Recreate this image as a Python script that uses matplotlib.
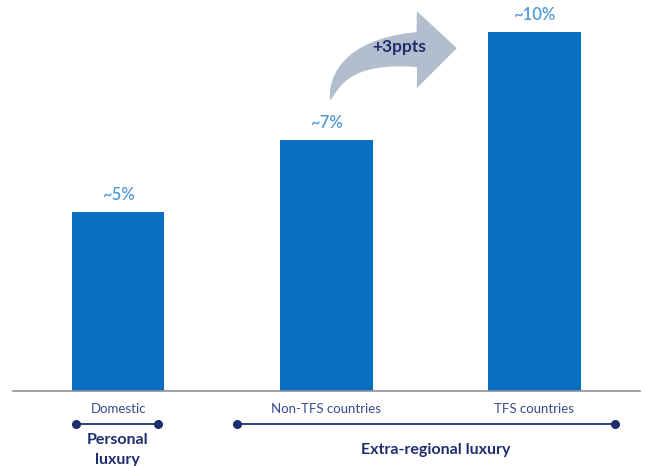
import numpy as np
import matplotlib
matplotlib.use("Agg")
import matplotlib.pyplot as plt
from matplotlib.patches import Polygon
from matplotlib.transforms import blended_transform_factory, IdentityTransform

plt.rcParams['font.family'] = ['Lato', 'DejaVu Sans']

categories = ["Domestic", "Non-TFS countries", "TFS countries"]
values = [5, 7, 10]
value_labels = ["~5%", "~7%", "~10%"]
uplift_label = "+3ppts"
groups = [("Personal\nluxury", 0, 0), ("Extra-regional luxury", 1, 2)]

BAR = "#0a6fc2"
LABEL = "#4f9ad8"
NAVY = "#1f2d6e"
ARROW = "#b2bdcd"

W, H = 647, 466
fig = plt.figure(figsize=(W / 100, H / 100), dpi=100)
ax = fig.add_axes([13 / W, (H - 391) / H, (640 - 13) / W, 391 / H])

x = np.arange(len(categories))
ax.bar(x, values, width=0.445, color=BAR, zorder=2)
ax.set_xlim(-0.505, 2.507)
ax.set_ylim(0, 391 / 35.9)

for xi, v, lab in zip(x, values, value_labels):
    ax.text(xi, v + 0.47, lab, ha="center", va="center", fontsize=12,
            color=LABEL, fontweight="semibold")

for side in ["top", "right", "left"]:
    ax.spines[side].set_visible(False)
ax.spines["bottom"].set_color("#8f939b")
ax.spines["bottom"].set_linewidth(1.2)
ax.set_xticks([])
ax.set_yticks([])

# category names and group brackets under the axis
bt = blended_transform_factory(ax.transData, fig.transFigure)
def fy(py):
    return 1 - py / H

for xi, cat in zip(x, categories):
    ax.text(xi, fy(409), cat, transform=bt, ha="center", va="center",
            fontsize=9.5, color="#3a4a8c", clip_on=False)

for name, i0, i1 in groups:
    if i0 == i1:
        x0, x1 = x[i0] - 0.2, x[i1] + 0.19
    else:
        x0, x1 = x[i0] - 0.43, x[i1] + 0.385
    ax.plot([x0, x1], [fy(424), fy(424)], transform=bt, color=NAVY,
            lw=1.3, marker="o", markersize=5.5, clip_on=False)
    cx = (x0 + x1) / 2
    if "\n" in name:
        ax.text(cx, fy(440), name.split("\n")[0], transform=bt, ha="center",
                va="center", fontsize=11.5, fontweight="bold", color=NAVY)
        ax.text(cx, fy(460), name.split("\n")[1], transform=bt, ha="center",
                va="center", fontsize=11.5, fontweight="bold", color=NAVY)
    else:
        ax.text(cx + 0.05, fy(450), name, transform=bt, ha="center",
                va="center", fontsize=11.5, fontweight="bold", color=NAVY)

# curved "uplift" arrow from the second bar towards the third
tail = ax.transData.transform((1.02, 8.1))
tip = ax.transData.transform((1.627, 9.55))
p0 = tail
p2 = np.array([tip[0] - 40, tip[1] - 1.5])
p1 = np.array([tail[0] + 10, p2[1] - 1])
t = np.linspace(0, 1, 60)[:, None]
centre = (1 - t) ** 2 * p0 + 2 * (1 - t) * t * p1 + t ** 2 * p2
deriv = 2 * (1 - t) * (p1 - p0) + 2 * t * (p2 - p1)
norm = np.column_stack([-deriv[:, 1], deriv[:, 0]])
norm /= np.linalg.norm(norm, axis=1, keepdims=True)
half = 17.5 * t[:, 0] ** 0.75
upper = centre + norm * half[:, None]
lower = centre - norm * half[:, None]
head = np.array([[p2[0], p2[1] + 38.5], tip, [p2[0], p2[1] - 38.5]])
pts = np.vstack([upper, head, lower[::-1]])
ax.add_patch(Polygon(pts, closed=True, transform=IdentityTransform(),
                     facecolor=ARROW, edgecolor="none", zorder=3,
                     clip_on=False))

ax.text(1.352, 9.58, uplift_label, ha="center", va="center", fontsize=12.5,
        fontweight="bold", color=NAVY, zorder=5)

fig.savefig("out.png", dpi=100)
